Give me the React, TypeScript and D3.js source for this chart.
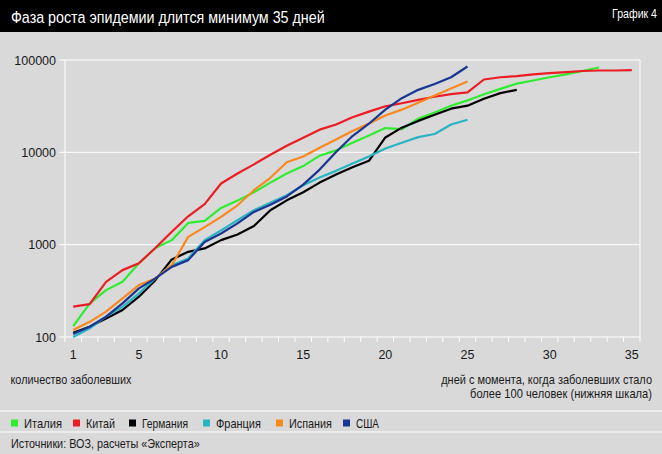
import React, { useRef, useEffect } from 'react'
import * as d3 from 'd3'

const W = 662
const H = 454

const title = 'Фаза роста эпидемии длится минимум 35 дней'
const chartNo = 'График 4'
const yTicks = [100, 1000, 10000, 100000]
const xTickLabels = [1, 5, 10, 15, 20, 25, 30, 35]

// cases, day 1 = first day with more than 100 cases
const italy = [131, 230, 322, 396, 630, 920, 1120, 1720, 1810, 2500, 3000, 3700, 4700, 5900, 7100, 9200, 10500, 12700, 15200, 18300, 17800, 23100, 27000, 32000, 36500, 42600, 48700, 55500, 60000, 65000, 70000, 76000, 83000]
const china = [213, 227, 395, 530, 630, 920, 1380, 2030, 2750, 4600, 5900, 7400, 9400, 11800, 14400, 17600, 20000, 24000, 27600, 31500, 34000, 37000, 40000, 42700, 44600, 61500, 65000, 67000, 70000, 72000, 74000, 76000, 77000, 77000, 77500]
const germany = [111, 129, 159, 196, 273, 413, 692, 837, 910, 1120, 1290, 1590, 2360, 3020, 3700, 4700, 5760, 6900, 8100, 14500, 18500, 21900, 25500, 29700, 32000, 38000, 43800, 47500]
const france = [100, 124, 166, 212, 297, 431, 600, 710, 1120, 1430, 1840, 2360, 2850, 3430, 4400, 5350, 6300, 7580, 9000, 11000, 12700, 14600, 15800, 20000, 22500]
const spain = [119, 146, 188, 262, 365, 431, 600, 1215, 1550, 2000, 2670, 3890, 5300, 7800, 9000, 11200, 13800, 17000, 20500, 25000, 29000, 34500, 41300, 49000, 58600]
const usa = [108, 129, 166, 231, 336, 431, 575, 680, 1070, 1320, 1700, 2260, 2700, 3330, 4470, 6500, 10100, 15000, 20400, 29000, 38600, 47500, 55000, 65000, 85000]

const seriesNames = ['Италия', 'Китай', 'Германия', 'Франция', 'Испания', 'США']
const seriesColors = ['#30ec30', '#ec1c24', '#000000', '#29b3c3', '#f7891f', '#1b3593']
const seriesData = [italy, china, germany, france, spain, usa]

const FONT = '"Liberation Sans", Arial, sans-serif'
const TEXT = '#1a1a1a'

const App: React.FC = () => {
  const svgRef = useRef<SVGSVGElement>(null)

  useEffect(() => {
    const svg = d3.select(svgRef.current!)
    svg.selectAll('*').remove()

    const x = d3.scaleLinear().domain([0.5, 35.5]).range([65, 640])
    const y = d3.scaleLog().domain([100, 100000]).range([337, 60])

    // condensed look: measure the text, then squeeze it horizontally
    // to the width it has in the original
    const label = (
      tx: number, ty: number, str: string, size: number, len: number,
      anchor = 'start', fill = TEXT,
    ) => {
      const g = svg.append('g')
      const t = g.append('text')
        .attr('text-anchor', anchor)
        .attr('fill', fill)
        .style('font-family', FONT)
        .style('font-size', `${size}px`)
        .text(str)
      const natural = (t.node() as SVGTextElement).getComputedTextLength() || len
      g.attr('transform', `translate(${tx},${ty}) scale(${len / natural},1)`)
    }

    // background + header
    svg.append('rect').attr('width', W).attr('height', H).attr('fill', '#d9d9d9')
    svg.append('rect').attr('width', W).attr('height', 32).attr('fill', '#000')
    label(11, 22.5, title, 17, 314, 'start', '#fff')
    label(657, 18, chartNo, 13, 45, 'end', '#fff')

    // grid + frame
    const grid = svg.append('g').attr('stroke', '#fff').attr('stroke-width', 1)
    yTicks.forEach((t) => {
      grid.append('line')
        .attr('x1', 59).attr('x2', 640)
        .attr('y1', y(t)).attr('y2', y(t))
    })
    grid.append('line').attr('x1', 65).attr('x2', 65).attr('y1', 60).attr('y2', 342)
    grid.append('line').attr('x1', 640).attr('x2', 640).attr('y1', 60).attr('y2', 342)
    d3.range(1.5, 35.5, 1).forEach((d) => {
      grid.append('line')
        .attr('x1', x(d)).attr('x2', x(d))
        .attr('y1', 337).attr('y2', 342)
    })

    // y labels
    yTicks.forEach((t) => {
      svg.append('text')
        .attr('x', 56).attr('y', y(t) + 4.5)
        .attr('text-anchor', 'end')
        .attr('fill', TEXT)
        .style('font-family', FONT)
        .style('font-size', '12.5px')
        .text(t)
    })

    // x labels
    xTickLabels.forEach((d) => {
      svg.append('text')
        .attr('x', x(d)).attr('y', 358.5)
        .attr('text-anchor', 'middle')
        .attr('fill', TEXT)
        .style('font-family', FONT)
        .style('font-size', '12.5px')
        .text(d)
    })

    // lines
    const line = d3.line<number>()
      .x((_, i) => x(i + 1))
      .y((v) => y(v))
    seriesData.forEach((s, k) => {
      svg.append('path')
        .datum(s)
        .attr('d', line)
        .attr('fill', 'none')
        .attr('stroke', seriesColors[k])
        .attr('stroke-width', 2.2)
        .attr('stroke-linejoin', 'round')
    })

    // axis captions
    label(10.5, 384, 'количество заболевших', 12, 121)
    label(652, 384, 'дней с момента, когда заболевших стало', 12, 211, 'end')
    label(652, 398, 'более 100 человек (нижняя шкала)', 12, 182, 'end')

    // separators
    svg.append('line').attr('x1', 0).attr('x2', W).attr('y1', 411).attr('y2', 411)
      .attr('stroke', '#f2f2f2').attr('stroke-width', 1.5)
    svg.append('line').attr('x1', 0).attr('x2', W).attr('y1', 432).attr('y2', 432)
      .attr('stroke', '#f2f2f2').attr('stroke-width', 1.5)

    // legend
    const legendX = [11, 73, 129, 203, 276, 343]
    const legendLen = [38, 29, 46, 45, 43, 23]
    seriesNames.forEach((name, k) => {
      svg.append('rect')
        .attr('x', legendX[k]).attr('y', 419.5)
        .attr('width', 7).attr('height', 7)
        .attr('fill', seriesColors[k])
      label(legendX[k] + 13, 427.5, name, 13, legendLen[k])
    })

    // source
    label(11, 448, 'Источники: ВОЗ, расчеты «Эксперта»', 13, 189)
  }, [])

  return (
    <>
      <style>{'body{margin:0}'}</style>
      <svg ref={svgRef} width={W} height={H} style={{ display: 'block' }} />
    </>
  )
}

export default App
